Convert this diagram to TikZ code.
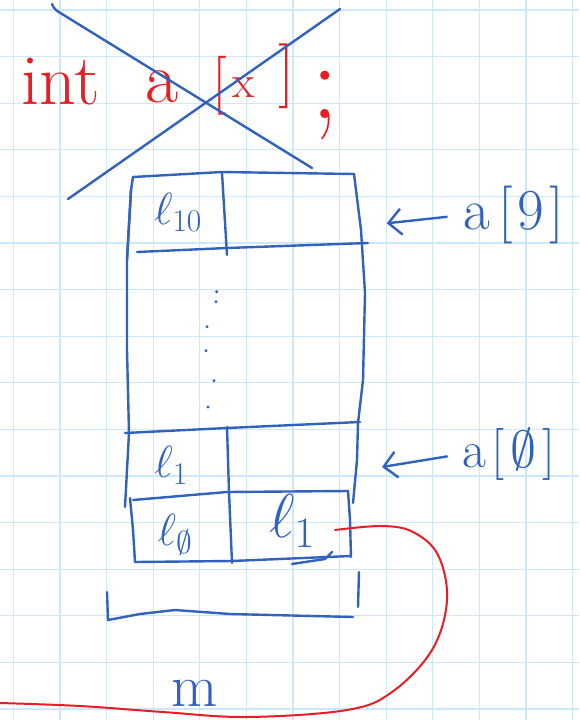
\RequirePackage{fix-cm}
\documentclass[tikz,border=0pt]{standalone}
\usetikzlibrary{arrows.meta}
\definecolor{penblue}{RGB}{48,98,190}
\definecolor{penred}{RGB}{232,30,36}
\definecolor{gridblue}{RGB}{205,232,250}
\begin{document}
\begin{tikzpicture}[x=1pt,y=-1pt,
  ink/.style={draw=penblue,line width=2.4pt,line cap=round,line join=round},
  redink/.style={draw=penred,line width=2pt,line cap=round,line join=round},
  gridline/.style={draw=gridblue,line width=1.2pt},
  bluetext/.style={text=penblue,inner sep=0pt},
  redtext/.style={text=penred,inner sep=0pt},
  pointer/.style={ink,-{Straight Barb[length=13pt,width=26pt,line width=2.4pt]}},
  inkdot/.style={fill=penblue}
]
\useasboundingbox (0,0) rectangle (579,720);
\fill[white] (0,0) rectangle (579,720);
% grid paper
\foreach \i in {0,...,12} \draw[gridline] ({13.3+46.6*\i},0) -- ({13.3+46.6*\i},720);
\foreach \j in {0,...,15} \draw[gridline] (0,{10+46.6*\j}) -- (579,{10+46.6*\j});

% crossed-out declaration
\node[redtext,font=\fontsize{72}{72}\selectfont] (kwint) at (61,82) {int};
\node[redtext,font=\fontsize{72}{72}\selectfont] (arrname) at (162,87) {a};
\node[redtext,font=\fontsize{59}{59}\selectfont] (lbr) at (220,86) {[};
\node[redtext,font=\fontsize{46}{46}\selectfont] (sizex) at (244,88) {x};
\node[redtext,font=\fontsize{65}{65}\selectfont] (rbr) at (287,76) {]};
\node[redtext,font=\fontsize{110}{110}\selectfont] (semi) at (325,106) {;};
\draw[ink] (52,4) to[out=-70,in=150] (62,14) -- (312,168);
\draw[ink] (68,199) -- (340,9);

% memory table
\draw[ink] (127,260) -- (131,190) -- (133,177) -- (222,172) -- (354,174);
\draw[ink] (354,174) -- (361,230) -- (365,293) -- (363,380) -- (358,423) -- (357,460) -- (353,503);
\draw[ink] (131,190) -- (127,260) -- (127,350) -- (129,433) -- (125,507);
\draw[ink] (130,498) -- (133,530) -- (135,562);
\draw[ink] (222,173) -- (227,255);
\draw[ink] (137,252) -- (227,248) -- (368,243);
\draw[ink] (125,433) -- (227,428) -- (360,422);
\draw[ink] (227,427) -- (229,492) -- (232,563);
\draw[ink] (133,500) -- (227,492) -- (348,491);
\draw[ink] (348,491) -- (350,520) -- (351,557);
\draw[ink] (135,562) -- (232,561) -- (351,556);
\draw[ink] (292,564) -- (325,559) -- (332,552);
\draw[ink] (107,592) -- (108,620) -- (140,614) -- (175,610) -- (230,614) -- (353,617);
\draw[ink] (359,572) -- (358,607);

% dots
\foreach \p in {(216.7,291.7),(216,301.7),(207,326.7),(206,350.7),(214,380.7),(208,407)}
  \fill[inkdot] \p circle[radius=1.7pt];

% cell texts
\node[bluetext,font=\fontsize{45}{45}\selectfont] (lten) at (178,212) {$\ell_{10}$};
\node[bluetext,font=\fontsize{45}{45}\selectfont] (lone) at (171,465) {$\ell_{1}$};
\node[bluetext,font=\fontsize{45}{45}\selectfont] (lzero) at (175,535) {$\ell_{\emptyset}$};
\node[bluetext,font=\fontsize{62}{62}\selectfont] (lonebig) at (292,521) {$\ell_{1}$};

% index labels and pointers
\node[bluetext,font=\fontsize{58}{58}\selectfont] (anine) at (514,215) {a\kern8pt[\kern5pt9\kern5pt]};
\coordinate (ninetip) at (386.7,223.3);
\draw[pointer,shorten <=17pt] (anine.west) -- (ninetip);
\node[bluetext,font=\fontsize{52}{52}\selectfont] (azero) at (509,454) {a\kern6pt[\kern6pt$\emptyset$\kern6pt]};
\coordinate (zerotip) at (382,467);
\draw[pointer,shorten <=15pt] (azero.west) -- (zerotip);

% red link and m
\node[bluetext,font=\fontsize{60}{60}\selectfont] (mlabel) at (195,693) {m};
\coordinate (linkstart) at (335,530);
\coordinate (linkend) at (0,703);
\draw[redink] plot[smooth,tension=0.6] coordinates {(linkstart) (382,526) (413,532) (438,555) (447,600) (432,650) (392,692) (347,710) (247,717) (163,712) (80,706) (linkend)};
\end{tikzpicture}
\end{document}
